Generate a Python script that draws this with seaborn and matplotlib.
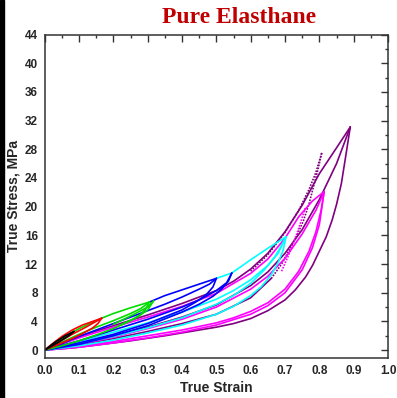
import pandas as pd
import numpy as np
import matplotlib.pyplot as plt
import seaborn as sns
from matplotlib.patches import Rectangle
from matplotlib.ticker import MultipleLocator, FormatStrFormatter

sns.set_style("white")
plt.rcParams["font.family"] = ["Liberation Sans", "DejaVu Sans"]

pur_load_x = [0, 0.1, 0.2, 0.3, 0.4, 0.5, 0.55, 0.6, 0.65, 0.7, 0.75, 0.8, 0.85, 0.89]
pur_load_y = [0, 1.9, 3.4, 4.9, 6.5, 8.3, 9.6, 11.3, 13.5, 16.5, 20.2, 24.6, 28.2, 31.1]
pur_reload_x = [0, 0.1, 0.2, 0.3, 0.4, 0.5, 0.6, 0.65, 0.7, 0.75, 0.8, 0.85, 0.89]
pur_reload_y = [0, 0.9, 2.0, 3.2, 4.6, 6.3, 9.0, 10.9, 13.5, 16.8, 21.0, 26.0, 31.1]
pur_unload_x = [0.89, 0.875, 0.864, 0.85, 0.837, 0.82, 0.8, 0.78, 0.76, 0.73, 0.7, 0.65, 0.6, 0.55, 0.5, 0.45, 0.35, 0.25, 0.15, 0.08, 0]
pur_unload_y = [31.1, 26.5, 23.2, 20.3, 18.1, 15.8, 13.8, 11.8, 10.2, 8.4, 7.0, 5.5, 4.4, 3.7, 3.2, 2.8, 2.0, 1.3, 0.7, 0.3, 0]
pur_unload2_x = [0.66, 0.6, 0.5, 0.4, 0.3, 0.2, 0.1, 0]
pur_unload2_y = [10.0, 7.3, 5.0, 3.7, 2.6, 1.6, 0.7, 0]
pur_dot_load_x = [0.6, 0.65, 0.7, 0.74, 0.77, 0.79, 0.807]
pur_dot_load_y = [11.0, 13.3, 16.4, 19.5, 22.4, 24.8, 27.5]
pur_dot_unload_x = [0.807, 0.795, 0.783, 0.77, 0.754, 0.735, 0.715, 0.69, 0.66]
pur_dot_unload_y = [27.5, 25.0, 22.8, 20.4, 18.1, 16.0, 14.2, 12.0, 10.0]

mag_load_x = [0, 0.1, 0.2, 0.3, 0.4, 0.5, 0.6, 0.65, 0.7, 0.74, 0.78, 0.814]
mag_load_y = [0, 1.7, 3.2, 4.6, 6.1, 7.9, 10.7, 12.7, 15.6, 18.6, 20.8, 22.1]
mag_reload_x = [0, 0.1, 0.2, 0.3, 0.4, 0.5, 0.6, 0.65, 0.7, 0.75, 0.79, 0.814]
mag_reload_y = [0, 0.8, 1.8, 3.0, 4.3, 6.0, 8.5, 10.3, 12.8, 16.2, 19.5, 22.1]
mag_unload_x = [0.814, 0.805, 0.79, 0.77, 0.74, 0.7, 0.65, 0.6, 0.55, 0.5, 0.4, 0.3, 0.2, 0.1, 0]
mag_unload_y = [22.1, 19.5, 16.5, 13.8, 11.0, 8.5, 6.6, 5.4, 4.5, 3.8, 2.8, 2.0, 1.2, 0.5, 0]
mag_unload2_x = [0.814, 0.8, 0.78, 0.75, 0.7, 0.65, 0.6, 0.5, 0.4, 0.3, 0.2, 0.1, 0]
mag_unload2_y = [22.1, 17.5, 14.3, 11.2, 8.0, 6.2, 5.0, 3.5, 2.5, 1.7, 1.0, 0.4, 0]
mag_dot_x = [0.69, 0.71, 0.735, 0.759]
mag_dot_y = [11.0, 13.2, 16.3, 19.8]

cyan_load_x = [0.5, 0.545, 0.6, 0.65, 0.703]
cyan_load_y = [10.0, 10.75, 12.6, 14.2, 15.8]
cyan_reload_x = [0, 0.1, 0.2, 0.3, 0.4, 0.5, 0.55, 0.6, 0.65, 0.68, 0.703]
cyan_reload_y = [0, 1.2, 2.5, 3.8, 5.3, 7.1, 8.3, 9.8, 11.8, 13.5, 15.8]
cyan_unload_x = [0.703, 0.695, 0.68, 0.66, 0.63, 0.6, 0.55, 0.5, 0.4, 0.3, 0.2, 0.1, 0]
cyan_unload_y = [15.8, 14.0, 12.2, 10.5, 8.8, 7.6, 6.1, 5.0, 3.5, 2.4, 1.4, 0.6, 0]
cyan_unload2_x = [0.703, 0.69, 0.67, 0.64, 0.6, 0.55, 0.5, 0.4, 0.3, 0.2, 0.1, 0]
cyan_unload2_y = [15.8, 14.6, 13.0, 11.2, 9.3, 7.6, 6.4, 4.5, 3.1, 1.9, 0.9, 0]

blue_load_x = [0.305, 0.35, 0.4, 0.45, 0.5]
blue_load_y = [6.7, 7.6, 8.4, 9.2, 10.0]
blue_reload_x = [0, 0.05, 0.1, 0.15, 0.2, 0.25, 0.3, 0.35, 0.4, 0.45, 0.48, 0.5]
blue_reload_y = [0, 0.9, 1.9, 2.8, 3.7, 4.6, 5.5, 6.4, 7.4, 8.5, 9.2, 10.0]
blue_reload2_x = [0, 0.1, 0.2, 0.3, 0.4, 0.45, 0.5, 0.53, 0.545]
blue_reload2_y = [0, 1.3, 2.8, 4.3, 6.0, 7.0, 8.3, 9.4, 10.75]
blue_unload_x = [0.5, 0.49, 0.47, 0.44, 0.4, 0.3, 0.2, 0.1, 0]
blue_unload_y = [10.0, 8.8, 7.7, 6.7, 5.6, 3.7, 2.2, 1.0, 0]
blue_unload2_x = [0.545, 0.535, 0.515, 0.49, 0.45, 0.4, 0.3, 0.2, 0.1, 0]
blue_unload2_y = [10.75, 9.6, 8.5, 7.5, 6.4, 5.3, 3.4, 2.0, 0.8, 0]

green_load_x = [0, 0.05, 0.1, 0.166, 0.2, 0.25, 0.305]
green_load_y = [0, 1.6, 3.0, 4.45, 5.1, 5.9, 6.7]
green_reload_x = [0, 0.05, 0.1, 0.15, 0.2, 0.25, 0.28, 0.305]
green_reload_y = [0, 1.1, 2.2, 3.2, 4.1, 5.1, 5.8, 6.7]
green_reload2_x = [0.2, 0.26, 0.3, 0.317]
green_reload2_y = [3.6, 5.0, 6.0, 6.85]
green_unload_x = [0.305, 0.295, 0.28, 0.25, 0.2, 0.15, 0.1, 0.05, 0]
green_unload_y = [6.7, 5.8, 5.0, 4.1, 3.0, 2.1, 1.3, 0.6, 0]
green_unload2_x = [0.317, 0.3, 0.27, 0.22]
green_unload2_y = [6.85, 5.6, 4.6, 3.5]

red_load_x = [0, 0.02, 0.05, 0.08, 0.11, 0.14, 0.166]
red_load_y = [0, 0.8, 1.9, 2.8, 3.5, 4.0, 4.45]
red_reload_x = [0, 0.04, 0.08, 0.12, 0.166]
red_reload_y = [0, 1.1, 2.2, 3.2, 4.45]
red_unload_x = [0.166, 0.155, 0.14, 0.11, 0.08, 0.05, 0.02, 0]
red_unload_y = [4.45, 3.7, 3.1, 2.3, 1.6, 1.0, 0.4, 0]

blk_load_x = [0, 0.03, 0.06, 0.085]
blk_load_y = [0, 1.1, 2.0, 2.6]
blk_unload_x = [0.085, 0.07, 0.04, 0]
blk_unload_y = [2.6, 2.0, 1.1, 0]

# name, x, y, colour, dotted
curves = [
    ("pur_load", pur_load_x, pur_load_y, "#800080", False),
    ("pur_reload", pur_reload_x, pur_reload_y, "#800080", False),
    ("pur_unload", pur_unload_x, pur_unload_y, "#800080", False),
    ("pur_unload2", pur_unload2_x, pur_unload2_y, "#800080", False),
    ("pur_dot_load", pur_dot_load_x, pur_dot_load_y, "#800080", True),
    ("pur_dot_unload", pur_dot_unload_x, pur_dot_unload_y, "#800080", True),
    ("mag_load", mag_load_x, mag_load_y, "#FF00FF", False),
    ("mag_reload", mag_reload_x, mag_reload_y, "#FF00FF", False),
    ("mag_unload", mag_unload_x, mag_unload_y, "#FF00FF", False),
    ("mag_unload2", mag_unload2_x, mag_unload2_y, "#FF00FF", False),
    ("mag_dot", mag_dot_x, mag_dot_y, "#FF00FF", True),
    ("cyan_load", cyan_load_x, cyan_load_y, "#00FFFF", False),
    ("cyan_reload", cyan_reload_x, cyan_reload_y, "#00FFFF", False),
    ("cyan_unload", cyan_unload_x, cyan_unload_y, "#00FFFF", False),
    ("cyan_unload2", cyan_unload2_x, cyan_unload2_y, "#00FFFF", False),
    ("blue_load", blue_load_x, blue_load_y, "#0000FF", False),
    ("blue_reload", blue_reload_x, blue_reload_y, "#0000FF", False),
    ("blue_reload2", blue_reload2_x, blue_reload2_y, "#0000FF", False),
    ("blue_unload", blue_unload_x, blue_unload_y, "#0000FF", False),
    ("blue_unload2", blue_unload2_x, blue_unload2_y, "#0000FF", False),
    ("green_load", green_load_x, green_load_y, "#00DD00", False),
    ("green_reload", green_reload_x, green_reload_y, "#00DD00", False),
    ("green_reload2", green_reload2_x, green_reload2_y, "#00DD00", False),
    ("green_unload", green_unload_x, green_unload_y, "#00DD00", False),
    ("green_unload2", green_unload2_x, green_unload2_y, "#00DD00", False),
    ("red_load", red_load_x, red_load_y, "#FF0000", False),
    ("red_reload", red_reload_x, red_reload_y, "#FF0000", False),
    ("red_unload", red_unload_x, red_unload_y, "#FF0000", False),
    ("blk_load", blk_load_x, blk_load_y, "#000000", False),
    ("blk_unload", blk_unload_x, blk_unload_y, "#000000", False),
]

rows = []
for name, xs, ys, col, dot in curves:
    for x, y in zip(xs, ys):
        rows.append({"strain": x, "stress": y, "curve": name})
df = pd.DataFrame(rows)
order = [c[0] for c in curves]
palette = {c[0]: c[3] for c in curves}
dashes = {c[0]: ((1, 0.8) if c[4] else "") for c in curves}

fig = plt.figure(figsize=(3.97, 3.98), dpi=100)
ax = fig.add_axes([0.1126, 0.1005, 0.8648, 0.8128])

sns.lineplot(data=df, x="strain", y="stress", hue="curve", style="curve",
             hue_order=order, style_order=order, palette=palette, dashes=dashes,
             sort=False, estimator=None, legend=False, linewidth=1.2, ax=ax)

ax.set_xlim(0, 1.0)
ax.set_ylim(-1.1, 44)
ax.xaxis.set_major_locator(MultipleLocator(0.1))
ax.xaxis.set_minor_locator(MultipleLocator(0.05))
ax.yaxis.set_major_locator(MultipleLocator(4))
ax.yaxis.set_minor_locator(MultipleLocator(2))
ax.xaxis.set_major_formatter(FormatStrFormatter("%.1f"))
ax.tick_params(which="both", direction="in", top=True, right=True, color="#333333", width=1.0)
ax.tick_params(which="major", length=5, labelsize=8.5, pad=5)
ax.tick_params(which="minor", length=2.5)
for lab in ax.get_xticklabels() + ax.get_yticklabels():
    lab.set_fontweight("bold")
for sp in ax.spines.values():
    sp.set_visible(True)
    sp.set_color("#333333")
    sp.set_linewidth(1.1)

ax.set_xlabel("True Strain", fontsize=10, fontweight="bold", labelpad=3)
ax.set_ylabel("True Stress, MPa", fontsize=10, fontweight="bold", labelpad=3)
ax.grid(False)

fig.text(0.603, 0.957, "Pure Elasthane", ha="center", va="center", color="#C00000",
         fontsize=17, fontweight="bold", family=["Liberation Serif", "DejaVu Serif"])
fig.patches.append(Rectangle((0, 0), 0.011, 1, transform=fig.transFigure, color="black", zorder=5))

fig.savefig("out.png", dpi=100)
